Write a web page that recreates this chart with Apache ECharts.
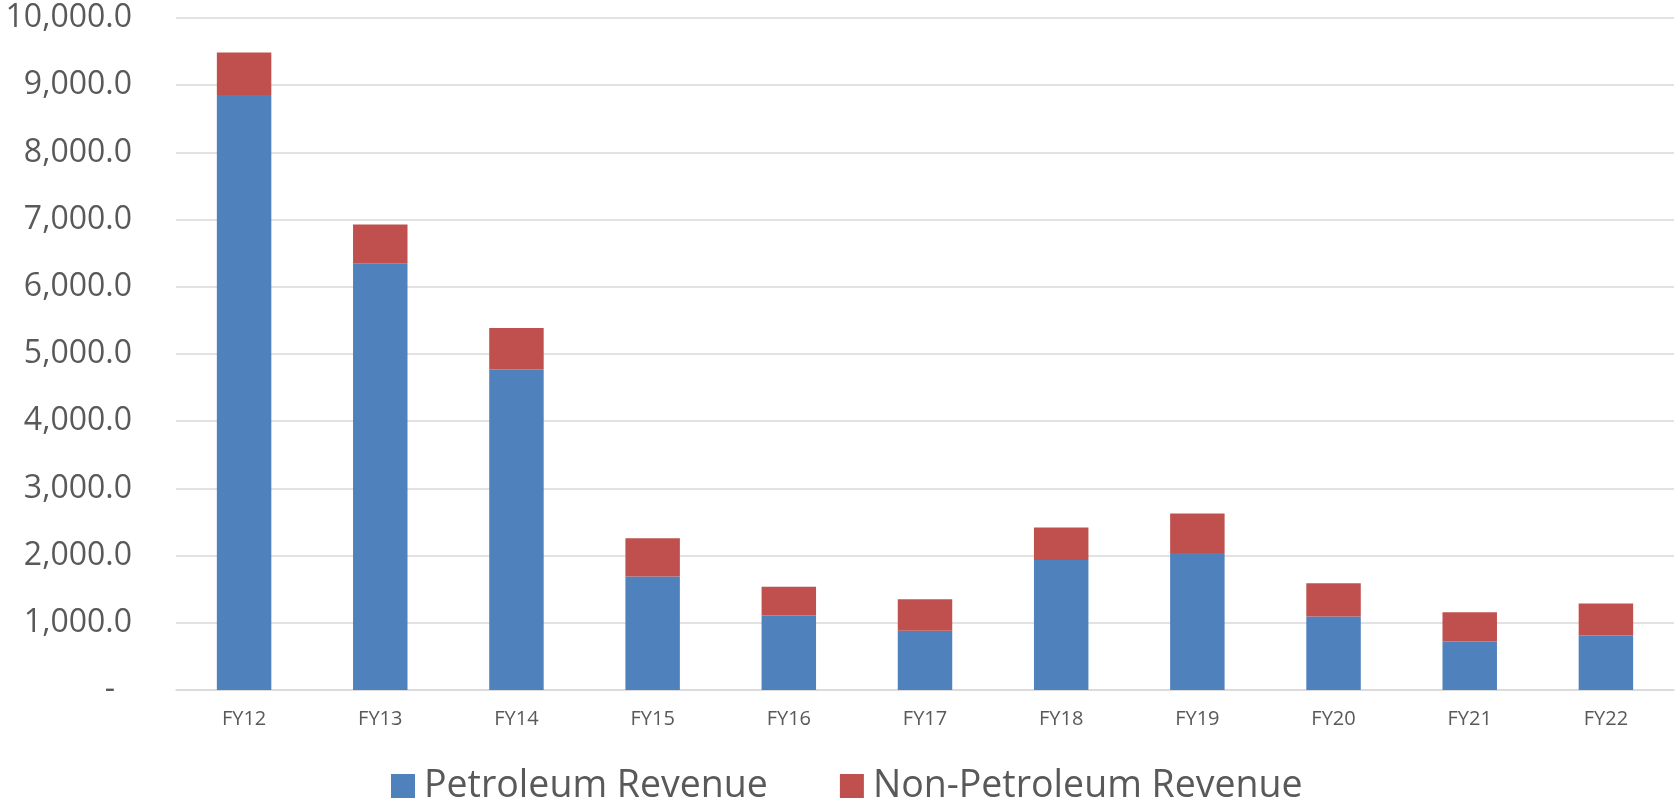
<!DOCTYPE html>
<html>
<head>
<meta charset="utf-8">
<script src="https://cdn.jsdelivr.net/npm/echarts@6/dist/echarts.min.js"></script>
<style>
  html, body { margin: 0; padding: 0; background: #fff; }
  #chart { width: 1675px; height: 804px; }
</style>
</head>
<body>
<div id="chart"></div>
<script>
// fiscal years on the x axis
var years = ['FY12', 'FY13', 'FY14', 'FY15', 'FY16', 'FY17', 'FY18', 'FY19', 'FY20', 'FY21', 'FY22'];
// stacked revenue values
var petroleum = [8855, 6350, 4768, 1688, 1109, 881, 1936, 2040, 1094, 723, 812];
var nonPetroleum = [630, 576, 620, 570, 426, 471, 481, 585, 495, 435, 475];
var yTicks = { min: 0, max: 10000, step: 1000 };

var chart = echarts.init(document.getElementById('chart'));

function fmtNum(v) {
    if (v === 0) return '{d|-}';
    return v.toLocaleString('en-US', { minimumFractionDigits: 1, maximumFractionDigits: 1 });
}

chart.setOption({
    animation: false,
    textStyle: { fontFamily: 'Open Sans', color: '#595959' },
    grid: { left: 176, right: 1, top: 18, bottom: 114 },
    legend: {
        data: ['Petroleum Revenue', 'Non-Petroleum Revenue'],
        top: 764,
        left: 391,
        padding: 0,
        itemWidth: 24,
        itemHeight: 24,
        itemGap: 72,
        icon: 'rect',
        textStyle: { fontSize: 37.5, lineHeight: 44, color: '#595959', padding: [0, 0, 0, 4] }
    },
    xAxis: {
        type: 'category',
        data: years,
        axisTick: { show: false },
        axisLine: { lineStyle: { color: '#d9d9d9', width: 1.5 } },
        axisLabel: { fontSize: 20, color: '#595959', margin: 19 }
    },
    yAxis: {
        type: 'value',
        min: yTicks.min,
        max: yTicks.max,
        interval: yTicks.step,
        axisLine: { show: false },
        axisTick: { show: false },
        splitLine: { lineStyle: { color: '#d9d9d9', width: 1.5 } },
        axisLabel: {
            fontSize: 32,
            color: '#595959',
            margin: 44,
            formatter: fmtNum,
            rich: { d: { fontSize: 32, color: '#595959', padding: [0, 17, 0, 0] } }
        }
    },
    series: [
        {
            name: 'Petroleum Revenue',
            type: 'bar',
            stack: 'rev',
            barWidth: '40%',
            itemStyle: { color: '#4f81bd' },
            data: petroleum
        },
        {
            name: 'Non-Petroleum Revenue',
            type: 'bar',
            stack: 'rev',
            barWidth: '40%',
            itemStyle: { color: '#c0504d' },
            data: nonPetroleum
        }
    ]
});
</script>
</body>
</html>
